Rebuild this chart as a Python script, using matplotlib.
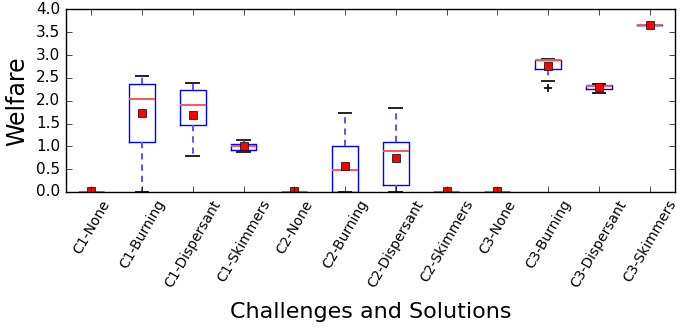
import matplotlib
matplotlib.use("Agg")
import matplotlib.pyplot as plt

plt.style.use("classic")

categories = ["C1-None", "C1-Burning", "C1-Dispersant", "C1-Skimmers",
              "C2-None", "C2-Burning", "C2-Dispersant", "C2-Skimmers",
              "C3-None", "C3-Burning", "C3-Dispersant", "C3-Skimmers"]
whisker_low = [0.0, 0.0, 0.79, 0.87, 0.0, 0.0, 0.0, 0.0, 0.0, 2.44, 2.18, 3.67]
q1 = [0.0, 1.10, 1.46, 0.93, 0.0, 0.0, 0.16, 0.0, 0.0, 2.70, 2.26, 3.67]
medians = [0.0, 2.04, 1.91, 1.00, 0.0, 0.48, 0.89, 0.0, 0.0, 2.90, 2.33, 3.67]
q3 = [0.0, 2.37, 2.23, 1.06, 0.0, 1.00, 1.10, 0.0, 0.0, 2.90, 2.34, 3.67]
whisker_high = [0.0, 2.55, 2.39, 1.13, 0.0, 1.72, 1.85, 0.0, 0.0, 2.92, 2.37, 3.67]
means = [0.02, 1.72, 1.68, 1.00, 0.02, 0.57, 0.74, 0.02, 0.02, 2.77, 2.29, 3.66]
fliers = [[], [], [], [], [], [], [], [], [], [2.28], [], []]

stats = []
for i, name in enumerate(categories):
    stats.append(dict(label=name, whislo=whisker_low[i], q1=q1[i], med=medians[i],
                      q3=q3[i], whishi=whisker_high[i], mean=means[i],
                      fliers=fliers[i]))

fig = plt.figure(figsize=(6.94, 3.27), dpi=100, facecolor="white")
ax = fig.add_axes([0.095, 0.413, 0.8776, 0.558])

ax.bxp(stats, showmeans=True, widths=0.5,
       boxprops=dict(color="blue", linewidth=1.0),
       whiskerprops=dict(color="#5555ff", linestyle=(0, (4.5, 3.6)), linewidth=1.4),
       capprops=dict(color="#222222", linewidth=1.4),
       medianprops=dict(color="#ff5555", linewidth=1.4),
       meanprops=dict(marker="s", markerfacecolor="red", markeredgecolor="black",
                      markersize=6),
       flierprops=dict(marker="+", markeredgecolor="black", markersize=6,
                       markeredgewidth=1.2))

ax.set_xlim(0.5, 12.5)
ax.set_ylim(0, 4.0)
ax.set_yticks([0.0, 0.5, 1.0, 1.5, 2.0, 2.5, 3.0, 3.5, 4.0])
ax.set_xticklabels(categories, rotation=60, ha="center", fontsize=10)
ax.tick_params(axis="y", labelsize=11)
ax.set_ylabel("Welfare", fontsize=17)
ax.set_xlabel("Challenges and Solutions", fontsize=16, labelpad=9)

fig.savefig("out.png", dpi=100, facecolor="white")
